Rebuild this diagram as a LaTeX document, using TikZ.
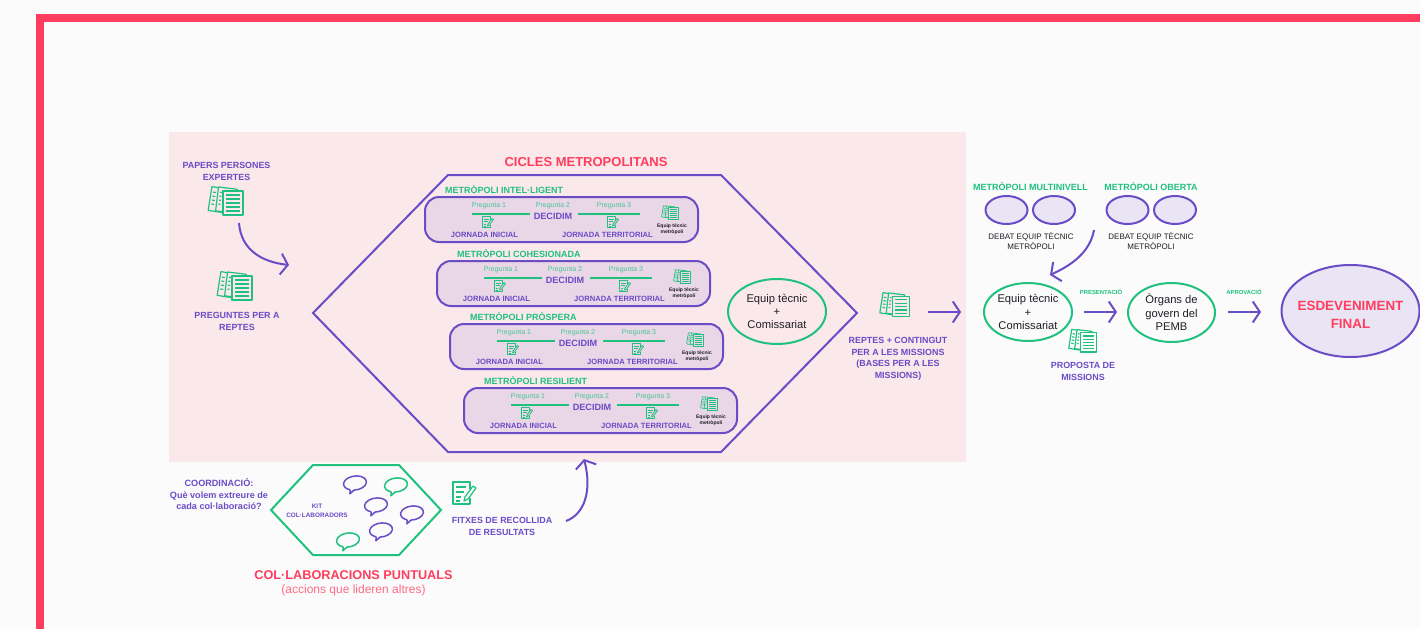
\documentclass[tikz,border=0pt]{standalone}
\usepackage{fontspec}
\setmainfont{Liberation Sans}
\usetikzlibrary{arrows.meta,shapes.geometric}
\definecolor{pagebg}{HTML}{FBFBFB}
\definecolor{framered}{HTML}{FF3D5E}
\definecolor{panel}{HTML}{FAE8EA}
\definecolor{purp}{HTML}{6A4CC6}
\definecolor{grn}{HTML}{20C17F}
\definecolor{rowfill}{HTML}{E9D6E7}
\definecolor{ovalfill}{HTML}{E9E5F5}
\definecolor{ink}{HTML}{1E1E26}
\definecolor{softred}{HTML}{FF6B85}
\definecolor{softgrn}{HTML}{45C795}
\tikzset{
  every node/.style={inner sep=0pt,outer sep=0pt,align=center},
  lab/.style={yshift=-.7pt,text=purp,font=\fontsize{8.9}{11.6}\selectfont\bfseries},
  title/.style={yshift=-.5pt,text=grn,font=\fontsize{9}{11}\selectfont\bfseries},
  blk/.style={text=ink,font=\fontsize{11.2}{13.4}\selectfont},
  small/.style={text=ink,font=\fontsize{8}{10.4}\selectfont},
  tinylab/.style={yshift=-.5pt,text=ink,font=\fontsize{5}{6.6}\selectfont\bfseries},
  preg/.style={yshift=-1pt,text=softgrn,font=\fontsize{7}{8}\selectfont},
  jorn/.style={yshift=-1pt,text=purp,font=\fontsize{7.6}{8}\selectfont\bfseries},
  dec/.style={yshift=-.5pt,text=purp,font=\fontsize{9.1}{10}\selectfont\bfseries},
  greenoval/.style={ellipse,draw=grn,line width=2pt,fill=none},
  smalloval/.style={ellipse,draw=purp,line width=2pt,fill=ovalfill,minimum width=42pt,minimum height=28pt},
  rowbox/.style={draw=purp,line width=2pt,fill=rowfill,rounded corners=14pt,minimum width=273pt,minimum height=45pt},
  arr/.style={draw=purp,line width=2pt,-{Straight Barb[length=7pt,width=21pt,line width=2pt]}},
  greenbar/.style={draw=grn,line width=2pt},
  pics/docs/.style={code={
    \begin{scope}[line join=round]
      \filldraw[draw=grn,fill=#1,rotate=-9] (-16,-11) rectangle (3,13);
      \filldraw[draw=grn,fill=#1,rotate=-7] (-9,-12) rectangle (10,12);
      \filldraw[draw=grn,fill=#1] (-3,-9) rectangle (17,15);
      \foreach \yy in {-5,-1,3,7,11}{\draw[draw=grn] (0,\yy) -- (14,\yy);}
      \foreach \yy in {-6,-2,2,6}{\draw[draw=grn,rotate=-8] (-14,\yy) -- (-11,\yy);}
      \foreach \yy in {-7,-3,1,5}{\draw[draw=grn,rotate=-7] (-7,\yy) -- (-5,\yy);}
    \end{scope}}},
  pics/editicon/.style={code={
    \begin{scope}[line join=round]
      \draw[draw=grn] (7,-4) -- (7,-11) -- (-10,-11) -- (-10,11) -- (7,11) -- (7,5);
      \foreach \yy/\xe in {-6/3,-1/1,4/-2,8/-3}{\draw[draw=grn] (-7,\yy) -- (\xe,\yy);}
      \draw[draw=grn] (2,4) -- (10,-7) -- (13,-5) -- (5,6) -- (1,8) -- cycle;
    \end{scope}}},
  pics/bubble/.style={code={
    \draw[draw=#1,line width=1.5pt,line join=round,rotate=8]
      (-5.75,6.06) -- (-6.5,10) -- (-2,6.9) arc[start angle=100,end angle=-240,x radius=11.5,y radius=7];}},
}
\begin{document}
\begin{tikzpicture}[x=1pt,y=-1pt]
\useasboundingbox (0,0) rectangle (1420,629);
\fill[pagebg] (0,0) rectangle (1420,629);
\fill[framered] (36,14) rectangle (1420,22);
\fill[framered] (36,14) rectangle (44,629);
\fill[panel] (169,132) rectangle (966,462);

% left column
\node[lab] (papers) at (226.5,171) {PAPERS PERSONES\\EXPERTES};
\pic[line width=1.2pt] at (226,200) {docs=panel};
\pic[line width=1.2pt] at (235,285) {docs=panel};
\node[lab] (preguntes) at (237,321) {PREGUNTES PER A\\REPTES};
\coordinate (a1s) at (239,223);
\coordinate (a1e) at (289,265);
\draw[arr] (a1s) .. controls (241,250) and (262,262) .. (a1e);

% big hexagon
\draw[purp,line width=2pt,line join=miter] (313,313) -- (448,175) -- (721,175) -- (857,313) -- (721,452) -- (448,452) -- cycle;
\node[text=framered,font=\fontsize{13}{15}\selectfont\bfseries] (cicles) at (586,162) {CICLES METROPOLITANS};

% rows
\foreach \i/\xo/\yo/\ttl in {1/425/197/METRÒPOLI INTEL·LIGENT,2/437/261/METRÒPOLI COHESIONADA,3/450/324/METRÒPOLI PRÒSPERA,4/464/388/METRÒPOLI RESILIENT}{
  \begin{scope}[shift={(\xo,\yo)}]
    \node[title,anchor=west] (t\i) at (20,-8) {\ttl};
    \node[rowbox,anchor=north west] (row\i) at (0,0) {};
    \node[preg] (pa\i) at (64,8) {Pregunta 1};
    \node[preg] (pb\i) at (128,8) {Pregunta 2};
    \node[preg] (pc\i) at (189,8) {Pregunta 3};
    \node[dec] (dec\i) at (128,18.5) {DECIDIM};
    \coordinate (la\i) at (47,16.5);
    \coordinate (lb\i) at (105,16.5);
    \coordinate (lc\i) at (153,16.5);
    \coordinate (ld\i) at (215,16.5);
    \draw[greenbar] (la\i) -- (lb\i);
    \draw[greenbar] (lc\i) -- (ld\i);
    \pic[scale=.5,line width=.8pt] at (62,25) {editicon};
    \pic[scale=.5,line width=.8pt] at (187,25) {editicon};
    \node[jorn] (ji\i) at (59.5,37) {JORNADA INICIAL};
    \node[jorn] (jt\i) at (182.5,37) {JORNADA TERRITORIAL};
    \pic[scale=.47,line width=.7pt] at (245,15) {docs=rowfill};
    \node[tinylab] (eq\i) at (247,31.5) {Equip tècnic\\metròpoli};
  \end{scope}
}
\node[greenoval,minimum width=98pt,minimum height=65pt] (eq) at (777,311.5) {};
\node[blk] at (777,311.5) {Equip tècnic\\+\\Comissariat};

% reptes
\pic[line width=1.2pt,scale=.85] at (895,304) {docs=panel};
\node[lab] (reptes) at (898,358) {REPTES + CONTINGUT\\PER A LES MISSIONS\\(BASES PER A LES\\MISSIONS)};
\coordinate (a2s) at (928,312);
\coordinate (a2e) at (961,312);
\draw[arr] (a2s) -- (a2e);

% right part
\node[title] (multi) at (1030.5,186) {METRÒPOLI MULTINIVELL};
\node[title] (oberta) at (1151,186) {METRÒPOLI OBERTA};
\node[smalloval] (o1) at (1006.5,210) {};
\node[smalloval] (o2) at (1054,210) {};
\node[smalloval] (o3) at (1127.5,210) {};
\node[smalloval] (o4) at (1175,210) {};
\node[small] (d1) at (1031,241) {DEBAT EQUIP TÈCNIC\\METRÒPOLI};
\node[small] (d2) at (1151,241) {DEBAT EQUIP TÈCNIC\\METRÒPOLI};
\node[greenoval,minimum width=88pt,minimum height=58pt] (eq2) at (1028,312) {};
\node[blk] at (1028,312) {Equip tècnic\\+\\Comissariat};
\node[greenoval,minimum width=87pt,minimum height=59pt] (org) at (1171.5,312.5) {};
\node[blk] at (1171.5,312.5) {Òrgans de\\govern del\\PEMB};
\node[ellipse,draw=purp,line width=2pt,fill=ovalfill,minimum width=138pt,minimum height=92pt] (final) at (1350.5,311) {};
\node[text=framered,font=\fontsize{13.4}{18}\selectfont\bfseries] at (1350.5,315) {ESDEVENIMENT\\FINAL};
\coordinate (a3s) at (1094,230);
\coordinate (a3e) at (1050,275);
\draw[arr] (a3s) .. controls (1090,252) and (1072,265) .. (a3e);
\coordinate (a4s) at (1084,312);
\coordinate (a4e) at (1117,312);
\draw[arr] (a4s) -- (a4e);
\coordinate (a5s) at (1228,312);
\coordinate (a5e) at (1261,312);
\draw[arr] (a5s) -- (a5e);
\node[text=grn,font=\fontsize{5.9}{7}\selectfont\bfseries] (pres) at (1101,292) {PRESENTACIÓ};
\node[text=grn,font=\fontsize{5.9}{7}\selectfont\bfseries] (apro) at (1244,292) {APROVACIÓ};
\pic[line width=1.2pt,scale=.8] at (1083,340) {docs=pagebg};
\node[lab] (prop) at (1083,370.5) {PROPOSTA DE\\MISSIONS};

% bottom
\draw[grn,line width=2pt] (271,510) -- (313,465) -- (399,465) -- (441,510) -- (399,555) -- (313,555) -- cycle;
\node[lab,font=\fontsize{9.1}{11.6}\selectfont\bfseries] (coord) at (219,493.5) {COORDINACIÓ:\\Què volem extreure de\\cada col·laboració?};
\node[lab,font=\fontsize{6.4}{8.6}\selectfont\bfseries] (kit) at (317,510) {KIT\\COL·LABORADORS};
\pic at (355,483) {bubble=purp};
\pic at (396,485) {bubble=grn};
\pic at (376,505) {bubble=purp};
\pic at (412,513) {bubble=purp};
\pic at (381,530) {bubble=purp};
\pic at (348,540) {bubble=grn};
\pic[line width=1.2pt] at (463,493) {editicon};
\node[lab] (fitxes) at (502,526) {FITXES DE RECOLLIDA\\DE RESULTATS};
\coordinate (a6s) at (566,521);
\coordinate (a6e) at (584,459);
\draw[arr] (a6s) .. controls (585,514) and (592,490) .. (a6e);
\node[text=framered,font=\fontsize{12.7}{15}\selectfont\bfseries] (colab) at (353.5,575) {COL·LABORACIONS PUNTUALS};
\node[text=softred,font=\fontsize{12}{12}\selectfont] (acc) at (353.5,590) {(accions que lideren altres)};
\end{tikzpicture}
\end{document}
